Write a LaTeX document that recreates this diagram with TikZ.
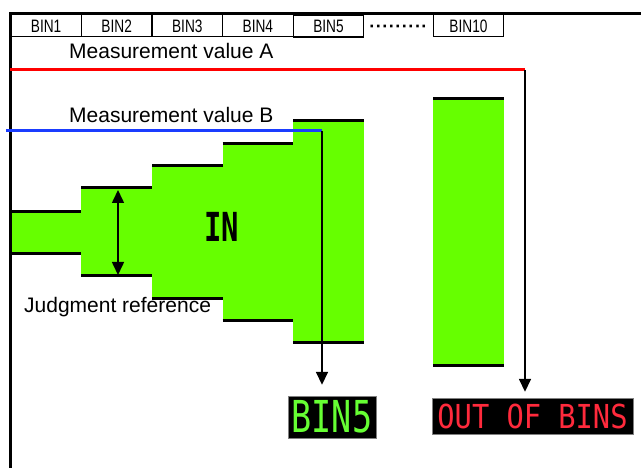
\documentclass[tikz,border=0pt]{standalone}
\usepackage{fontspec}
\setmainfont{Liberation Sans}
\newfontfamily\segfont{DejaVu Sans Mono}
\usepackage{graphicx}
\usetikzlibrary{matrix, positioning, arrows.meta}
\definecolor{okgreen}{HTML}{66FF00}
\definecolor{seggreen}{HTML}{66FF33}
\definecolor{segred}{HTML}{FF2A3C}
\definecolor{measblue}{HTML}{1A3CFF}
\newcommand{\binname}[1]{\scalebox{0.76}[1]{BIN#1}}
\newcommand{\bingap}{\makebox[58pt][s]{·\hfil·\hfil·\hfil·\hfil·\hfil·\hfil·\hfil·\hfil·}}
\tikzset{
  tab/.style={draw, line width=1.2pt, minimum width=70.6pt, minimum height=22pt,
    inner sep=0pt, outer sep=0pt, font=\fontsize{18}{18}\selectfont},
  limit/.style={line width=3pt},
  meas/.style={line width=1.6pt, -{Triangle[width=12pt,length=13pt]}},
  display/.style={fill=black, draw=gray, inner sep=0pt},
  caption/.style={font=\fontsize{21}{22}\selectfont, inner sep=0pt},
}

\begin{document}
\begin{tikzpicture}[x=1pt, y=-1pt]
      \useasboundingbox (0,0) rectangle (641,468);
      \matrix (bins) [matrix of nodes, nodes={tab}, column sep=-1.2pt, inner sep=0pt,
                      anchor=north west] at (10,14) {
        \binname{1} & \binname{2} & \binname{3} & \binname{4} & \binname{5} &
        |[draw=none, font=\fontsize{18}{18}\selectfont\bfseries]| \bingap & \binname{10} \\
      } ;
      % judgment ranges, one per bin column
      \foreach \c/\t/\b in {1/212/254, 2/188/276, 3/166/299, 4/144/321, 5/121/343, 7/99/366} {
        \fill[okgreen] (bins-1-\c.west |- 0,\t) rectangle (bins-1-\c.east |- 0,\b);
        \draw[limit] (bins-1-\c.west |- 0,\t) -- (bins-1-\c.east |- 0,\t)
                     (bins-1-\c.west |- 0,\b) -- (bins-1-\c.east |- 0,\b);
      }
      \coordinate (corner) at (10,14);
      \draw[limit] (corner -| 641,0) -- (corner) -- (corner |- 0,468);
      \node[caption, font=\segfont\bfseries\fontsize{40}{40}\selectfont] (inlabel) at (222,227)
        {\scalebox{0.72}[1]{IN}};
      \node[caption, anchor=base west] (judgelabel) at (24,312.5) {Judgment reference};
      \coordinate (refTop) at (118,190);
      \coordinate (refBot) at (118,275);
      \draw[line width=1.6pt, {Triangle[width=12pt,length=13pt]}-{Triangle[width=12pt,length=13pt]}]
        (refTop) -- (refBot);
      \node[caption, anchor=base west] (labelA) at (69,59) {Measurement value A};
      \node[caption, anchor=base west] (labelB) at (69,123) {Measurement value B};
      \coordinate (endA) at (525,70);
      \coordinate (endB) at (322,131);
      \draw[red, line width=3pt] (10,70) -- (endA);
      \draw[measblue, line width=3pt] (6,131) -- (endB);
      \node[display, minimum width=88pt, minimum height=42pt] (bin5disp) at (332,417)
        {\color{seggreen}\segfont\fontsize{44}{44}\selectfont\scalebox{0.76}[1]{BIN5}};
      \node[display, minimum width=201pt, minimum height=36pt] (outdisp) at (532.5,416)
        {\color{segred}\segfont\fontsize{33}{33}\selectfont\scalebox{0.87}[1]{OUT OF BINS}};
      \draw[meas, shorten >=11pt] (endB) -- (endB |- bin5disp.north);
      \draw[meas, shorten >=6pt] (endA) -- (endA |- outdisp.north);
\end{tikzpicture}
\end{document}
